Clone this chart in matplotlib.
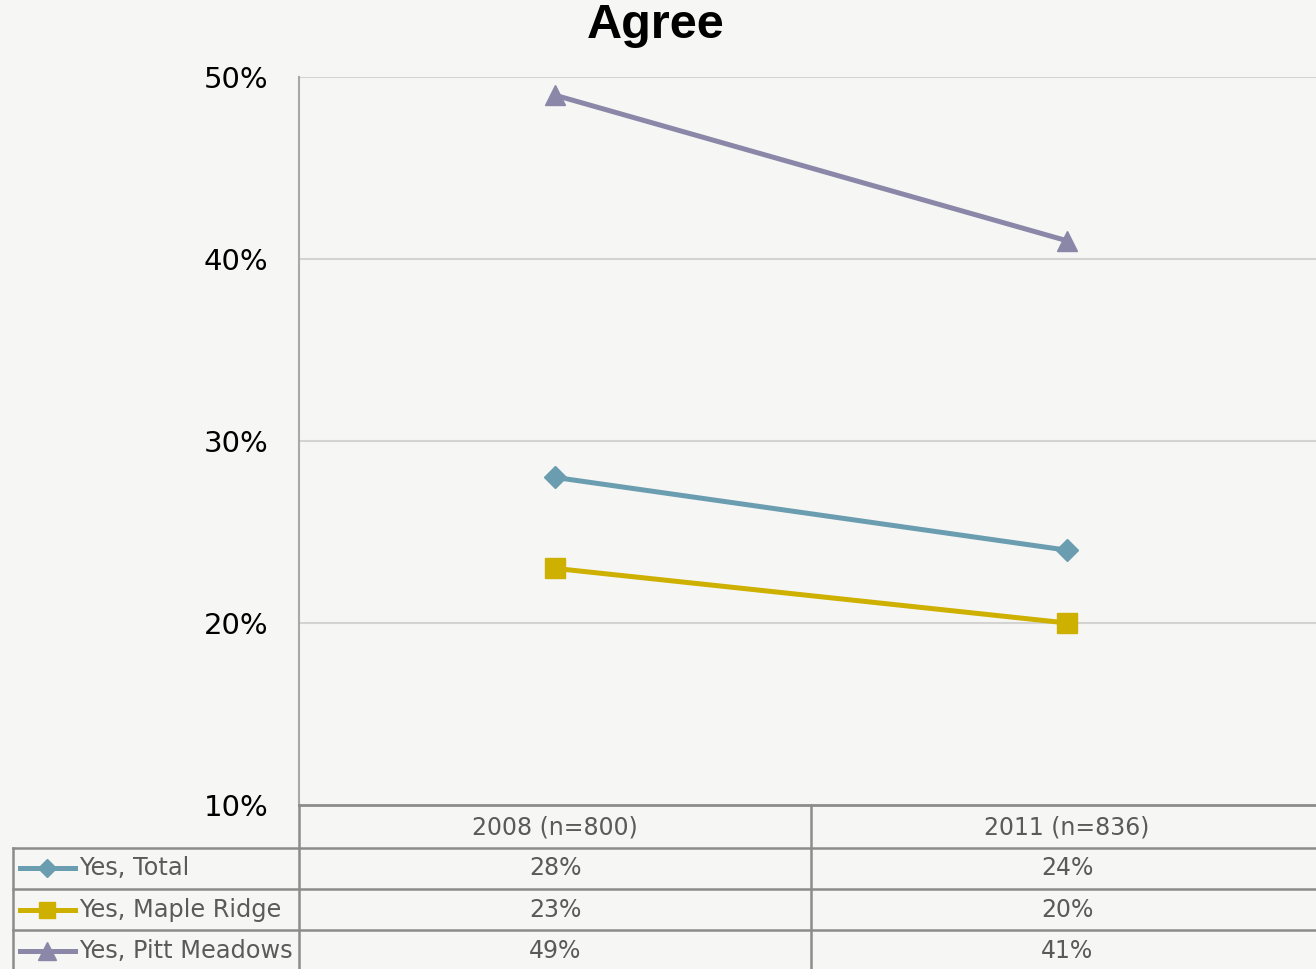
import matplotlib.pyplot as plt
from matplotlib.lines import Line2D
from matplotlib.transforms import blended_transform_factory

categories = ["2008 (n=800)", "2011 (n=836)"]
series_names = ["Yes, Total", "Yes, Maple Ridge", "Yes, Pitt Meadows"]
total = [28, 24]
maple_ridge = [23, 20]
pitt_meadows = [49, 41]
yticks = [10, 20, 30, 40, 50]

series = [total, maple_ridge, pitt_meadows]
colors = ["#6b9db0", "#ceb000", "#8b87a8"]
markers = ["D", "s", "^"]
msizes = [11, 14, 15]

W, H = 1316, 969
fig = plt.figure(figsize=(W / 100, H / 100), dpi=100, facecolor="#f6f6f4")


def fx(px):
    return px / W


def fy(py):
    return 1 - py / H


ax = fig.add_axes([fx(299), fy(805), fx(1316) - fx(299), fy(77) - fy(805)])
ax.patch.set_alpha(0)

xs = list(range(len(categories)))
for vals, c, m, ms in zip(series, colors, markers, msizes):
    ax.plot(xs, vals, color=c, lw=3.6, marker=m, markersize=ms, zorder=3)

ax.set_xlim(-0.5, 1.486)
ax.set_ylim(10, 50)
ax.set_yticks(yticks)
ax.set_yticklabels([f"{v}%" for v in yticks], fontsize=21, color="black")
ax.tick_params(axis="y", length=0, pad=22)
ax.set_xticks([])
for v in yticks[1:]:
    ax.axhline(v, color="#d3d3d1", lw=1.5, zorder=1)
for s in ["top", "right", "bottom"]:
    ax.spines[s].set_visible(False)
ax.spines["left"].set_color("#a8a8a8")
ax.spines["left"].set_linewidth(1.5)

fig.text(0.498, fy(26), "Agree", ha="center", va="center", fontsize=35,
         fontweight="bold", family="Liberation Sans")

# data table below the plot
grid_c = "#8c8c8c"


def hline(y, x0, x1, lw=1.8):
    fig.add_artist(Line2D([fx(x0), fx(x1)], [fy(y), fy(y)], color=grid_c, lw=lw))


def vline(x, y0, y1, lw=1.8):
    fig.add_artist(Line2D([fx(x), fx(x)], [fy(y0), fy(y1)], color=grid_c, lw=lw))


hline(805, 299, W, lw=2)
for y in [848, 889, 930]:
    hline(y, 13, W)
vline(299, 805, H)
vline(811, 805, H)
vline(13, 848, H)

trans = blended_transform_factory(ax.transData, fig.transFigure)
txt_c = "#5a5a5a"
for i, cat in enumerate(categories):
    fig.text(i, fy(827), cat, transform=trans, ha="center", va="center",
             fontsize=17, color=txt_c)

row_y = [868, 910, 951]
for name, vals, c, m, ms, ry in zip(series_names, series, colors, markers, msizes, row_y):
    fig.add_artist(Line2D([fx(20), fx(75)], [fy(ry), fy(ry)], color=c, lw=3.6))
    fig.add_artist(Line2D([fx(47)], [fy(ry)], color=c, marker=m,
                          markersize=ms * 0.85, lw=0))
    fig.text(fx(79), fy(ry), name, ha="left", va="center", fontsize=17.3, color=txt_c)
    for i, v in enumerate(vals):
        fig.text(i, fy(ry), f"{v}%", transform=trans, ha="center", va="center",
                 fontsize=17, color=txt_c)

fig.savefig("out.png", dpi=100, facecolor=fig.get_facecolor())
